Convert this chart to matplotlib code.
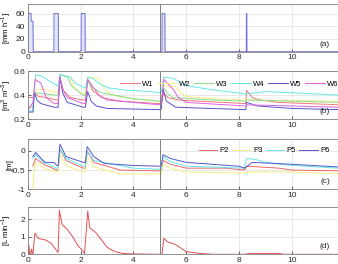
import matplotlib
matplotlib.use("Agg")
import matplotlib.pyplot as plt

plt.rcParams['font.family'] = ['Liberation Sans', 'DejaVu Sans']
plt.rcParams['mathtext.fontset'] = 'custom'
plt.rcParams['mathtext.rm'] = 'Liberation Sans'

# ---------------- data ----------------
rain_t = [0, 0.02, 0.02, 0.125, 0.13, 0.2, 0.21, 0.99, 0.995, 1.16, 1.165, 1.98, 2.02, 2.025, 2.17, 2.175,
          5.08, 5.085, 5.19, 5.195, 8.27, 8.275, 8.29, 8.295, 11.8]
rain_v = [0, 0, 60, 60, 48, 48, 0, 0, 60, 60, 0, 0, 3, 60, 60, 0,
          0, 60, 60, 0, 0, 60, 60, 0, 0]

w_labels = ['W1', 'W2', 'W3', 'W4', 'W5', 'W6']
w1_t = [0, 0.2, 0.25, 0.4, 0.7, 1.1, 1.15, 1.22, 1.35, 1.6, 2.1, 2.18, 2.27, 2.45, 2.8, 3.5, 5.0, 5.05, 5.15, 5.3,
        5.7, 6.5, 8.25, 8.28, 8.5, 8.8, 9.5, 11.8]
w1_v = [0.38, 0.38, 0.42, 0.39, 0.38, 0.36, 0.36, 0.54, 0.44, 0.38, 0.36, 0.36, 0.53, 0.44, 0.38, 0.35, 0.33, 0.33,
        0.42, 0.38, 0.36, 0.35, 0.33, 0.44, 0.38, 0.36, 0.34, 0.32]
w2_t = [0, 0.2, 0.25, 0.6, 1.1, 1.15, 1.22, 1.6, 1.75, 2.0, 2.18, 2.27, 2.7, 2.9, 3.2, 4.0, 5.0, 5.05, 5.15, 5.6,
        5.8, 6.0, 7.0, 8.25, 8.3, 11.8]
w2_v = [0.30, 0.30, 0.44, 0.45, 0.42, 0.42, 0.57, 0.55, 0.47, 0.42, 0.41, 0.55, 0.54, 0.45, 0.40, 0.37, 0.35, 0.35,
        0.48, 0.47, 0.42, 0.39, 0.37, 0.36, 0.36, 0.35]
w3_t = [0, 0.2, 0.25, 1.1, 1.15, 1.22, 1.5, 1.65, 1.8, 2.1, 2.18, 2.27, 2.45, 2.8, 4.0, 5.0, 5.05, 5.15, 5.3, 5.5,
        7.0, 8.25, 8.3, 11.8]
w3_v = [0.30, 0.30, 0.42, 0.40, 0.40, 0.57, 0.55, 0.48, 0.45, 0.40, 0.40, 0.52, 0.46, 0.42, 0.37, 0.35, 0.35, 0.46,
        0.41, 0.38, 0.36, 0.35, 0.36, 0.34]
w4_t = [0, 0.2, 0.3, 0.5, 0.8, 1.1, 1.15, 1.22, 1.6, 1.8, 2.15, 2.18, 2.28, 2.45, 2.75, 3.05, 3.8, 4.6, 5.0, 5.05,
        5.15, 5.5, 6.0, 6.8, 8.25, 9.0, 10.0, 11.8]
w4_v = [0.27, 0.27, 0.57, 0.56, 0.52, 0.48, 0.48, 0.57, 0.55, 0.50, 0.46, 0.46, 0.55, 0.54, 0.49, 0.46, 0.44, 0.43,
        0.42, 0.42, 0.55, 0.54, 0.48, 0.45, 0.41, 0.43, 0.42, 0.40]
w5_t = [0, 0.2, 0.25, 0.35, 0.5, 1.0, 1.15, 1.22, 1.32, 1.5, 2.1, 2.18, 2.27, 2.4, 2.6, 3.0, 5.0, 5.05, 5.12, 5.25,
        5.6, 8.25, 8.28, 8.7, 10.0, 11.8]
w5_v = [0.26, 0.26, 0.42, 0.36, 0.33, 0.30, 0.30, 0.55, 0.42, 0.34, 0.30, 0.30, 0.43, 0.35, 0.31, 0.29, 0.28, 0.28,
        0.45, 0.35, 0.30, 0.28, 0.34, 0.31, 0.29, 0.28]
w6_t = [0, 0.2, 0.28, 0.5, 0.7, 1.0, 1.15, 1.22, 1.32, 1.5, 2.1, 2.18, 2.27, 2.5, 2.7, 3.0, 5.0, 5.05, 5.15, 5.5,
        5.7, 6.0, 8.25, 8.3, 11.8]
w6_v = [0.27, 0.34, 0.53, 0.50, 0.38, 0.33, 0.33, 0.55, 0.45, 0.38, 0.33, 0.33, 0.53, 0.46, 0.40, 0.36, 0.32, 0.32,
        0.53, 0.45, 0.38, 0.34, 0.31, 0.32, 0.30]

p_labels = ['P2', 'P3', 'P5', 'P6']
p2_t = [0.2, 0.22, 0.3, 0.6, 1.1, 1.15, 1.22, 1.45, 2.1, 2.18, 2.25, 2.5, 3.5, 5.0, 5.05, 5.12, 5.4, 6.0, 7.5,
        8.2, 8.3, 9.5, 10.0, 11.8]
p2_v = [-0.4, -0.35, -0.2, -0.35, -0.5, -0.5, 0.05, -0.25, -0.45, -0.45, 0.0, -0.3, -0.5, -0.52, -0.52, -0.25,
        -0.35, -0.45, -0.45, -0.5, -0.4, -0.45, -0.5, -0.52]
p3_t = [0.2, 0.22, 0.3, 0.6, 1.1, 1.15, 1.22, 1.45, 2.1, 2.18, 2.25, 2.5, 3.5, 5.0, 5.05, 5.12, 5.4, 6.0, 8.0,
        8.5, 10.0, 11.8]
p3_v = [-1.0, -0.6, -0.3, -0.45, -0.55, -0.55, -0.1, -0.38, -0.55, -0.55, -0.15, -0.42, -0.6, -0.6, -0.6, -0.35,
        -0.45, -0.55, -0.58, -0.55, -0.55, -0.6]
p5_t = [0.2, 0.3, 0.6, 1.1, 1.15, 1.22, 1.45, 2.1, 2.18, 2.25, 2.5, 4.0, 5.0, 5.05, 5.12, 5.4, 6.0, 8.2, 8.28,
        8.6, 9.0, 10.0, 11.8]
p5_v = [-0.2, -0.1, -0.3, -0.45, -0.45, 0.05, -0.2, -0.4, -0.4, 0.0, -0.25, -0.45, -0.48, -0.48, -0.15, -0.28,
        -0.4, -0.45, -0.2, -0.22, -0.3, -0.38, -0.45]
p6_t = [0.2, 0.3, 0.65, 1.0, 1.1, 1.15, 1.22, 1.45, 2.1, 2.18, 2.25, 2.5, 2.9, 4.0, 5.0, 5.05, 5.12, 5.4, 6.0,
        7.0, 8.0, 8.2, 8.5, 10.0, 11.8]
p6_v = [-0.15, -0.04, -0.3, -0.3, -0.38, -0.38, 0.17, -0.15, -0.3, -0.3, 0.11, -0.15, -0.33, -0.38, -0.4, -0.4,
        -0.1, -0.2, -0.3, -0.35, -0.4, -0.45, -0.3, -0.35, -0.42]

q_t = [0, 0.05, 0.07, 0.1, 0.15, 0.17, 0.2, 0.27, 0.4, 0.7, 0.9, 1.1, 1.15, 1.2, 1.3, 1.5, 1.7, 1.9, 2.1, 2.15, 2.27,
       2.35, 2.6, 2.8, 3.0, 3.3, 3.6, 4.0, 5.0, 5.08, 5.15, 5.3, 5.6, 5.8, 6.0, 6.5, 7.0, 8.2, 8.4, 9.5, 9.7, 11.8]
q_v = [0, 0.5, 0.05, 0.0, 0.3, 0.0, 0.0, 1.2, 0.9, 0.8, 0.6, 0.2, 0.1, 2.5, 1.7, 1.4, 1.0, 0.5, 0.15, 0.05, 2.45,
       1.5, 1.2, 0.8, 0.4, 0.15, 0.05, 0.02, 0.0, 0.0, 0.9, 0.7, 0.55, 0.35, 0.15, 0.05, 0.0, 0.0, 0.05, 0.05, 0.0, 0.0]

# ---------------- figure ----------------
fig = plt.figure(figsize=(3.38, 2.64), dpi=100)
left = 27.7 / 338
width = 1.0 - left
H = 264.0
boxes = [(4, 51.7), (71, 119.3), (139.3, 189.3), (206.7, 254.3)]
axes = []
for top, bot in boxes:
    ax = fig.add_axes([left, 1 - bot / H, width, (bot - top) / H])
    axes.append(ax)

w_colors = ['#ee7777', '#f8ee88', '#88dd88', '#66e6e6', '#5555cc', '#e060e0']
p_colors = ['#ee6666', '#f4ee80', '#66e6e6', '#5555cc']

ax = axes[0]
ax.fill_between(rain_t, rain_v, 0, color='#e4e4f8', lw=0)
ax.plot(rain_t, rain_v, color='#7070d8', lw=0.7)
ax.set_ylim(0, 75)
ax.set_yticks([0, 20, 40, 60])
ax.set_ylabel('[mm h$^{-1}$]')

ax = axes[1]
for t, v, c, l in zip([w1_t, w2_t, w3_t, w4_t, w5_t, w6_t], [w1_v, w2_v, w3_v, w4_v, w5_v, w6_v], w_colors, w_labels):
    ax.plot(t, v, color=c, lw=0.7, label=l)
ax.set_ylim(0.2, 0.6)
ax.set_yticks([0.2, 0.4, 0.6])
ax.set_ylabel('[m$^3$ m$^{-3}$]')
ax.legend(ncol=6, loc='center left', bbox_to_anchor=(0.297, 0.73), frameon=False, fontsize=5.5,
          handlelength=2.6, handletextpad=0.3, columnspacing=0.45, borderpad=0, borderaxespad=0)

ax = axes[2]
for t, v, c, l in zip([p2_t, p3_t, p5_t, p6_t], [p2_v, p3_v, p5_v, p6_v], p_colors, p_labels):
    ax.plot(t, v, color=c, lw=0.7, label=l)
ax.set_ylim(-1, 0.3)
ax.set_yticks([-1, -0.5, 0])
ax.set_yticklabels(['-1', '-0.5', '0'])
ax.set_ylabel('[m]')
ax.legend(ncol=4, loc='center left', bbox_to_anchor=(0.552, 0.77), frameon=False, fontsize=5.5,
          handlelength=2.4, handletextpad=0.3, columnspacing=0.45, borderpad=0, borderaxespad=0)

ax = axes[3]
ax.plot(q_t, q_v, color='#e05050', lw=0.7)
ax.set_ylim(0, 2.7)
ax.set_yticks([0, 1, 2])
ax.set_ylabel('[L min$^{-1}$]')

tags = ['(a)', '(b)', '(c)', '(d)']
for ax, tag in zip(axes, tags):
    ax.set_xlim(0, 11.74)
    ax.set_xticks([0, 2, 4, 6, 8, 10])
    ax.grid(True, color='#e4e4e4', lw=0.6)
    ax.set_axisbelow(True)
    ax.axvline(5, color='#808080', lw=0.7)
    ax.tick_params(direction='in', length=2, width=0.5, labelsize=6, pad=2, colors='#262626')
    for s in ax.spines.values():
        s.set_color('#808080')
        s.set_linewidth(0.6)
    ax.text(0.958, 0.16, tag, transform=ax.transAxes, fontsize=6, ha='center', va='center', color='#262626')

for ax in axes:
    ax.yaxis.label.set_size(5.6)
    ax.yaxis.set_label_coords(-0.047, 0.5)

fig.savefig('out.png', dpi=100)
